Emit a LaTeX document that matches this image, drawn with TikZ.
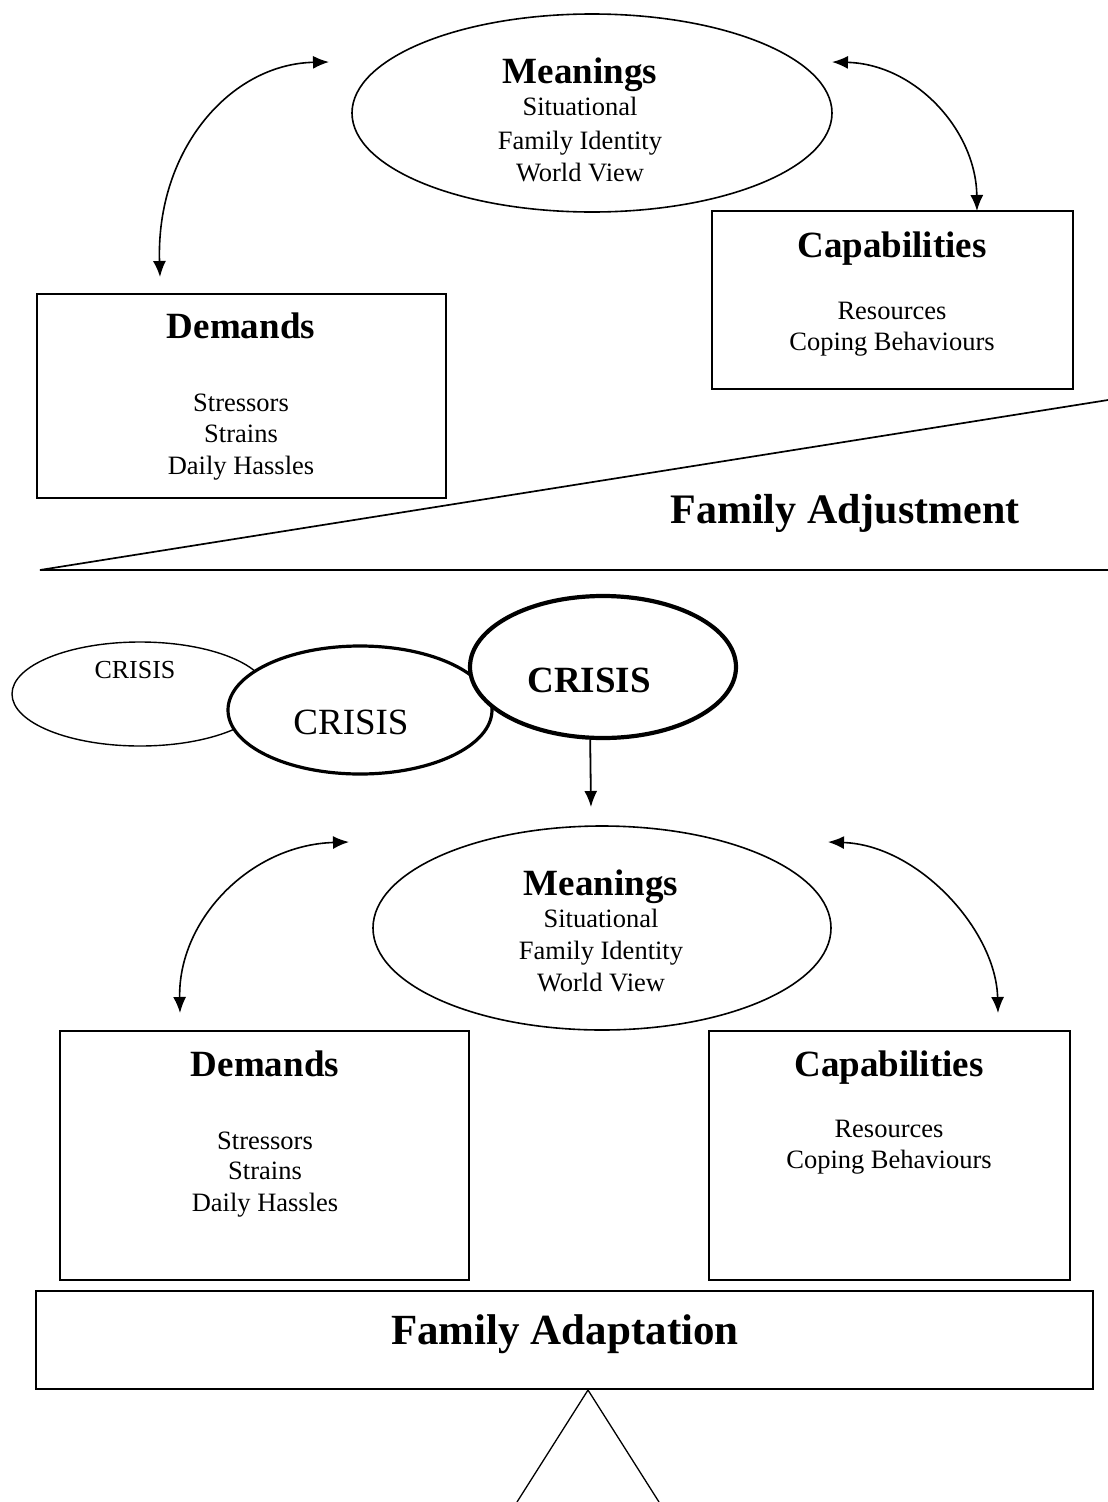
\documentclass[tikz,border=0pt]{standalone}
\usepackage{fontspec}
\setmainfont{Liberation Serif}
\usetikzlibrary{arrows.meta,shapes.geometric}
\begin{document}
\begin{tikzpicture}[x=1pt,y=-1pt,
  ln/.style={line width=1.7pt},
  box/.style={draw,line width=1.7pt,rectangle,inner sep=0pt,anchor=north west},
  ell/.style={draw,ellipse,inner sep=0pt,line width=1.6pt,fill=white},
  head/.style={anchor=base,inner sep=0pt,font=\fontsize{37}{40}\selectfont\bfseries},
  item/.style={anchor=base,inner sep=0pt,font=\fontsize{26.5}{30}\selectfont},
  dbl/.style={line width=1.6pt,{Latex[length=16pt,width=13pt]}-{Latex[length=16pt,width=13pt]}},
  sgl/.style={line width=1.8pt,-{Latex[length=16pt,width=13pt]}}
]
\useasboundingbox (0,0) rectangle (1108,1502);

% ---------- top half ----------
\node[ell,minimum width=480pt,minimum height=198pt] (m1) at (592,113) {};
\node[head] (m1t) at (580,83) {Meanings};
\node[item] (m1a) at (580,115) {Situational};
\node[item] (m1b) at (580,149) {Family Identity};
\node[item] (m1c) at (580,181) {World View};

\node[box,minimum width=361pt,minimum height=178pt] (c1) at (711,210) {};
\node[head] (c1t) at (892,257) {Capabilities};
\node[item] (c1a) at (892,319) {Resources};
\node[item] (c1b) at (892,350) {Coping Behaviours};

\node[box,minimum width=409pt,minimum height=204pt] (d1) at (36,293) {};
\node[head] (d1t) at (241,338) {Demands};
\node[item] (d1a) at (241,411) {Stressors};
\node[item] (d1b) at (241,442) {Strains};
\node[item] (d1c) at (241,474) {Daily Hassles};

\coordinate (a1s) at (160,277);
\coordinate (a1e) at (329,62);
\draw[dbl] (a1s) .. controls (156,150) and (230,64) .. (a1e);
\coordinate (a2s) at (832,62);
\coordinate (a2e) at (977,211);
\draw[dbl] (a2s) .. controls (915,64) and (976,130) .. (a2e);

\coordinate (wl) at (40,570);
\coordinate (wr) at (1108,400);
\coordinate (hr) at (1108,570);
\draw[ln] (wr) -- (wl) -- (hr);
\node[anchor=base,inner sep=0pt,font=\fontsize{42}{46}\selectfont\bfseries] (fadj) at (845,523) {Family Adjustment};

% ---------- crises ----------
\node[ell,line width=1.4pt,minimum width=256pt,minimum height=104pt] (cr1) at (140,694) {};
\node[anchor=base,inner sep=0pt,font=\fontsize{26}{30}\selectfont] (cr1t) at (135,678) {CRISIS};
\node[ell,line width=3.2pt,minimum width=264pt,minimum height=128pt] (cr2) at (360,710) {};
\node[anchor=base,inner sep=0pt,font=\fontsize{37}{40}\selectfont] (cr2t) at (351,734) {CRISIS};
\node[ell,line width=4.2pt,minimum width=266pt,minimum height=142pt] (cr3) at (603,667) {};
\node[anchor=base,inner sep=0pt,font=\fontsize{37}{40}\selectfont\bfseries] (cr3t) at (589,692) {CRISIS};
\coordinate (ca) at (591,807);
\draw[sgl] (cr3.260) -- (ca);

% ---------- bottom half ----------
\node[ell,minimum width=458pt,minimum height=204pt] (m2) at (602,928) {};
\node[head] (m2t) at (601,895) {Meanings};
\node[item] (m2a) at (601,927) {Situational};
\node[item] (m2b) at (601,959) {Family Identity};
\node[item] (m2c) at (601,991) {World View};

\node[box,minimum width=409pt,minimum height=249pt] (d2) at (59,1030) {};
\node[head] (d2t) at (265,1076) {Demands};
\node[item] (d2a) at (265,1149) {Stressors};
\node[item] (d2b) at (265,1179) {Strains};
\node[item] (d2c) at (265,1211) {Daily Hassles};

\node[box,minimum width=361pt,minimum height=249pt] (c2) at (708,1030) {};
\node[head] (c2t) at (889,1076) {Capabilities};
\node[item] (c2a) at (889,1137) {Resources};
\node[item] (c2b) at (889,1168) {Coping Behaviours};

\coordinate (b1s) at (180,1013);
\coordinate (b1e) at (349,842);
\draw[dbl] (b1s) .. controls (178,920) and (250,845) .. (b1e);
\coordinate (b2s) at (828,842);
\coordinate (b2e) at (998,1013);
\draw[dbl] (b2s) .. controls (918,845) and (996,930) .. (b2e);

\node[box,minimum width=1057pt,minimum height=98pt] (fa) at (35,1290) {};
\node[anchor=base,inner sep=0pt,font=\fontsize{43}{47}\selectfont\bfseries] (fat) at (565,1344) {Family Adaptation};

\coordinate (apex) at (588,1390);
\coordinate (tl) at (517,1502);
\coordinate (tr) at (659,1502);
\draw[line width=1.3pt] (tl) -- (apex) -- (tr);
\end{tikzpicture}
\end{document}
